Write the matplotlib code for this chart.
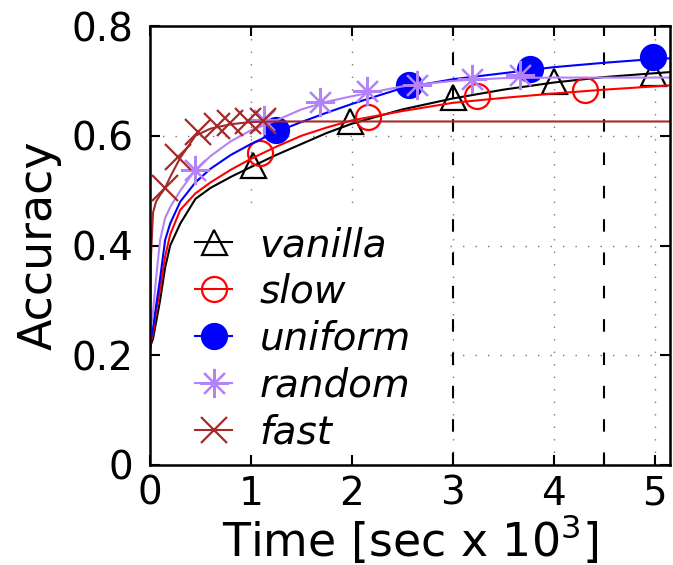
import numpy as np
import matplotlib
matplotlib.use("Agg")
import matplotlib.pyplot as plt
from matplotlib.lines import Line2D
from matplotlib.patches import Rectangle

# time grid (x 10^3 s) on which the smoothed accuracy curves are sampled
t_curve = [0, 0.01, 0.03, 0.06, 0.1, 0.15, 0.2, 0.3, 0.45, 0.6, 0.8, 1.0,
           1.25, 1.5, 1.75, 2.0, 2.5, 3.0, 3.5, 4.0, 4.5, 5.0, 5.15]

acc_vanilla = [0.21, 0.22, 0.23, 0.26, 0.30, 0.36, 0.40, 0.44, 0.485, 0.505, 0.525, 0.543,
               0.565, 0.585, 0.605, 0.622, 0.648, 0.668, 0.684, 0.697, 0.707, 0.714, 0.716]
acc_slow = [0.21, 0.225, 0.24, 0.28, 0.32, 0.38, 0.42, 0.465, 0.495, 0.515, 0.538, 0.558,
            0.58, 0.60, 0.615, 0.628, 0.645, 0.66, 0.669, 0.677, 0.684, 0.69, 0.692]
acc_uniform = [0.21, 0.23, 0.25, 0.29, 0.34, 0.41, 0.44, 0.48, 0.515, 0.54, 0.565, 0.585,
               0.607, 0.625, 0.642, 0.658, 0.687, 0.703, 0.714, 0.725, 0.733, 0.740, 0.741]
acc_random = [0.21, 0.25, 0.28, 0.34, 0.41, 0.45, 0.47, 0.50, 0.538, 0.563, 0.59, 0.61,
              0.628, 0.648, 0.662, 0.672, 0.69, 0.70, 0.705, 0.706, 0.706, 0.706, 0.706]
acc_fast = [0.22, 0.38, 0.46, 0.48, 0.492, 0.505, 0.525, 0.56, 0.60, 0.613, 0.621, 0.625,
            0.626, 0.626, 0.626, 0.626, 0.626, 0.626, 0.626, 0.626, 0.626, 0.626, 0.626]

# sampled points shown with markers
pts_vanilla_t = [1.02, 1.98, 3.0, 4.0, 4.98]
pts_vanilla_a = [0.547, 0.626, 0.67, 0.699, 0.715]
pts_slow_t = [1.09, 2.16, 3.24, 4.31]
pts_slow_a = [0.569, 0.635, 0.672, 0.684]
pts_uniform_t = [1.25, 2.57, 3.76, 4.98]
pts_uniform_a = [0.611, 0.693, 0.721, 0.743]
pts_random_t = [0.45, 1.13, 1.68, 2.15, 2.64, 3.19, 3.66]
pts_random_a = [0.538, 0.628, 0.662, 0.681, 0.693, 0.703, 0.71]
pts_fast_t = [0.15, 0.28, 0.48, 0.66, 0.79, 0.97, 1.12]
pts_fast_a = [0.505, 0.562, 0.606, 0.617, 0.624, 0.626, 0.626]

labels = ["vanilla", "slow", "uniform", "random", "fast"]
xticks = [0, 1, 2, 3, 4, 5]
xtick_labels = ["0", "1", "2", "3", "4", "5"]
yticks = [0, 0.2, 0.4, 0.6, 0.8]
ytick_labels = ["0", "0.2", "0.4", "0.6", "0.8"]
marked_times = [3, 4.5]

series = [
    (acc_vanilla, pts_vanilla_t, pts_vanilla_a, "black", dict(marker="^", mfc="none", ms=18)),
    (acc_slow, pts_slow_t, pts_slow_a, "#ff0000", dict(marker="o", mfc="none", ms=18)),
    (acc_uniform, pts_uniform_t, pts_uniform_a, "#0000ff", dict(marker="o", mfc="#0000ff", ms=18)),
    (acc_random, pts_random_t, pts_random_a, "#b482f8", dict(marker=(8, 2, 0), ms=21)),
    (acc_fast, pts_fast_t, pts_fast_a, "#a52a2a", dict(marker="x", ms=19)),
]

fig = plt.figure(figsize=(6.73, 5.65), dpi=100)
ax = fig.add_axes([150 / 673, 1 - 465 / 565, 520 / 673, 439 / 565])
ax.set_axisbelow(True)

handles = []
for (acc, pt, pa, color, mk), name in zip(series, labels):
    ax.plot(t_curve, acc, color=color, lw=1.5)
    ax.plot(pt, pa, ls="none", color=color, mec=color, mew=1.6, **mk)
    handles.append(Line2D([], [], color=color, lw=1.5, mec=color, mew=1.6, **mk))

# opaque key background and the two dashed markers
key_box = Rectangle((0.12, 0.022), 2.85, 0.435, facecolor="white", edgecolor="none", zorder=1)
ax.add_patch(key_box)
for xv in marked_times:
    ax.axvline(xv, color="black", lw=1.5, ls=(0, (6, 10)), zorder=1.5)

ax.set_xlim(0, 5.15)
ax.set_ylim(0, 0.8)
ax.set_xticks(xticks, labels=xtick_labels)
ax.set_xticks([4.5], minor=True)
ax.set_yticks(yticks, labels=ytick_labels)
ax.grid(True, which="major", color="#777777", lw=1.0, ls=(0, (1, 8)))
ax.tick_params(which="both", direction="in", length=7, width=1.5, top=True, right=True)
ax.tick_params(axis="x", labelsize=28, pad=7)
ax.tick_params(axis="y", labelsize=28, pad=12)
for sp in ax.spines.values():
    sp.set_linewidth(1.8)

ax.set_xlabel("Time [sec x $10^3$]", fontsize=33)
ax.set_ylabel("Accuracy", fontsize=33)
ax.xaxis.set_label_coords(0.5, -0.11)
ax.yaxis.set_label_coords(-0.17, 0.5)

leg = ax.legend(handles, labels, loc="lower left", bbox_to_anchor=(0.087, 0.03),
                frameon=False, prop=dict(size=28, style="italic"),
                handlelength=0.95, handletextpad=0.7, labelspacing=0.23,
                borderaxespad=0, borderpad=0)

fig.savefig("out.png", dpi=100)
